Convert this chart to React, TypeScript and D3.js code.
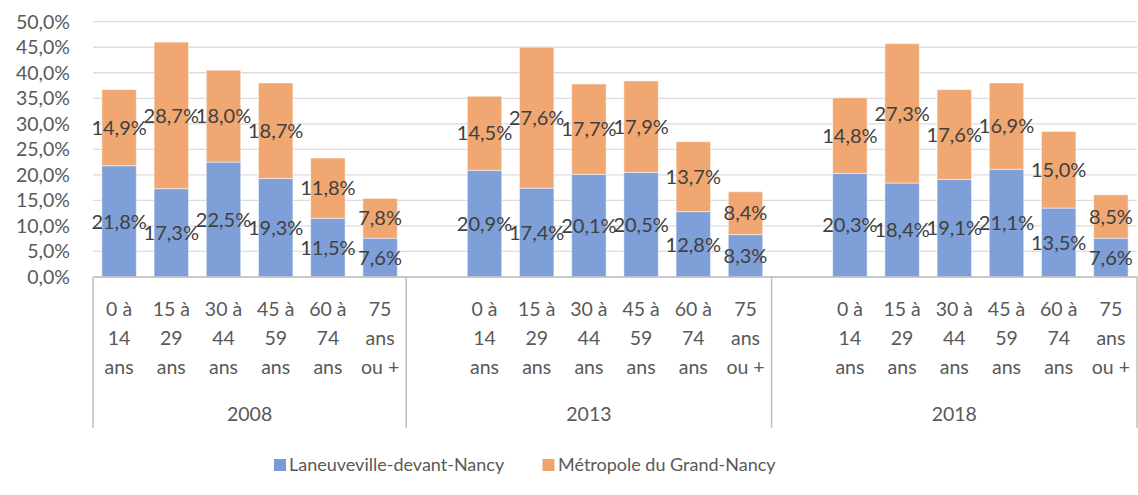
import React from "react";
import * as d3 from "d3";

const years = ["2008", "2013", "2018"];
const ageGroups = ["0 à 14 ans", "15 à 29 ans", "30 à 44 ans", "45 à 59 ans", "60 à 74 ans", "75 ans ou +"];
const ageLabelLines = [
  ["0 à", "14", "ans"],
  ["15 à", "29", "ans"],
  ["30 à", "44", "ans"],
  ["45 à", "59", "ans"],
  ["60 à", "74", "ans"],
  ["75", "ans", "ou +"],
];
const seriesNames = ["Laneuveville-devant-Nancy", "Métropole du Grand-Nancy"];
const laneuveville = [
  21.8, 17.3, 22.5, 19.3, 11.5, 7.6,
  20.9, 17.4, 20.1, 20.5, 12.8, 8.3,
  20.3, 18.4, 19.1, 21.1, 13.5, 7.6,
];
const metropole = [
  14.9, 28.7, 18.0, 18.7, 11.8, 7.8,
  14.5, 27.6, 17.7, 17.9, 13.7, 8.4,
  14.8, 27.3, 17.6, 16.9, 15.0, 8.5,
];
const yTicks = [0, 5, 10, 15, 20, 25, 30, 35, 40, 45, 50];

const W = 1138;
const H = 495;
const FONT = "Lato, 'Open Sans', sans-serif";
const BLUE = "#7A9CD6";
const ORANGE = "#F0A46D";

const fmt = (v: number) => v.toFixed(1).replace(".", ",") + "%";

type Slot = { key: string; yi: number; ai: number; blank: boolean };

export default function App() {
  const slots: Slot[] = [];
  years.forEach((yr, yi) => {
    if (yi > 0) slots.push({ key: `${yr}-blank`, yi, ai: -1, blank: true });
    ageGroups.forEach((ag, ai) => slots.push({ key: `${yr}-${ag}`, yi, ai, blank: false }));
  });

  const left = 93;
  const right = 1137;
  const top = 21.7;
  const bottom = 277;

  const x = d3
    .scaleBand<string>()
    .domain(slots.map((s) => s.key))
    .range([left, right])
    .paddingInner(0.34)
    .paddingOuter(0.17);
  const y = d3.scaleLinear().domain([0, 50]).range([bottom, top]);
  const step = x.step();

  const groupBounds = years.map((yr, yi) => {
    const ks = slots.filter((s) => s.yi === yi);
    const x0 = x(ks[0].key)! - step * 0.17;
    const x1 = x(ks[ks.length - 1].key)! + x.bandwidth() + step * 0.17;
    return { yr, x0, x1 };
  });

  const bars = slots
    .filter((s) => !s.blank)
    .map((s) => {
      const idx = s.yi * ageGroups.length + s.ai;
      return { s, a: laneuveville[idx], b: metropole[idx] };
    });

  return (
    <svg
      width={W}
      height={H}
      style={{ position: "absolute", left: 0, top: 0, background: "#fff" }}
      fontFamily={FONT}
    >
      {/* gridlines */}
      {yTicks.map((t) => (
        <line key={`g${t}`} x1={left} x2={right} y1={y(t)} y2={y(t)} stroke="#DCDCDC" strokeWidth={1.3} />
      ))}
      {/* y tick labels */}
      {yTicks.map((t) => (
        <text key={`yt${t}`} x={70} y={y(t)} dy="0.36em" textAnchor="end" fontSize={19.5} fill="#595959">
          {fmt(t)}
        </text>
      ))}
      {/* bars */}
      {bars.map(({ s, a, b }) => {
        const bx = x(s.key)!;
        const bw = x.bandwidth();
        return (
          <g key={s.key}>
            <rect x={bx} y={y(a)} width={bw} height={y(0) - y(a)} fill={BLUE} fillOpacity={0.97} stroke="#fff" strokeOpacity={0.5} strokeWidth={1} />
            <rect x={bx} y={y(a + b)} width={bw} height={y(a) - y(a + b)} fill={ORANGE} fillOpacity={0.97} stroke="#fff" strokeOpacity={0.5} strokeWidth={1} />
          </g>
        );
      })}
      {/* axis line */}
      <line x1={left} x2={right} y1={bottom} y2={bottom} stroke="#BFBFBF" strokeWidth={1.5} />
      {/* group separators */}
      {[left, ...groupBounds.map((g) => g.x1)].map((gx, i) => (
        <line key={`sep${i}`} x1={gx} x2={gx} y1={bottom} y2={428} stroke="#BFBFBF" strokeWidth={1.5} />
      ))}
      {/* data labels */}
      {bars.map(({ s, a, b }) => {
        const cx = x(s.key)! + x.bandwidth() / 2;
        return (
          <g key={`l${s.key}`} fontSize={20} fill="#404040" textAnchor="middle">
            <text x={cx} y={y(a / 2)} dy="0.36em">{fmt(a)}</text>
            <text x={cx} y={y(a + b / 2)} dy="0.36em">{fmt(b)}</text>
          </g>
        );
      })}
      {/* category labels */}
      {slots
        .filter((s) => !s.blank)
        .map((s) => {
          const cx = x(s.key)! + x.bandwidth() / 2;
          return (
            <text key={`c${s.key}`} textAnchor="middle" fontSize={19.5} fill="#595959">
              {ageLabelLines[s.ai].map((ln, li) => (
                <tspan key={li} x={cx} y={316 + li * 29}>
                  {ln}
                </tspan>
              ))}
            </text>
          );
        })}
      {/* year labels */}
      {groupBounds.map((g) => (
        <text key={`y${g.yr}`} x={(g.x0 + g.x1) / 2} y={420.5} textAnchor="middle" fontSize={19.5} fill="#595959">
          {g.yr}
        </text>
      ))}
      {/* legend */}
      <rect x={274} y={459} width={12} height={12} fill={BLUE} />
      <text x={289} y={471} fontSize={18} fill="#595959">{seriesNames[0]}</text>
      <rect x={542.5} y={459} width={12} height={12} fill={ORANGE} />
      <text x={558} y={471} fontSize={18} fill="#595959">{seriesNames[1]}</text>
    </svg>
  );
}
